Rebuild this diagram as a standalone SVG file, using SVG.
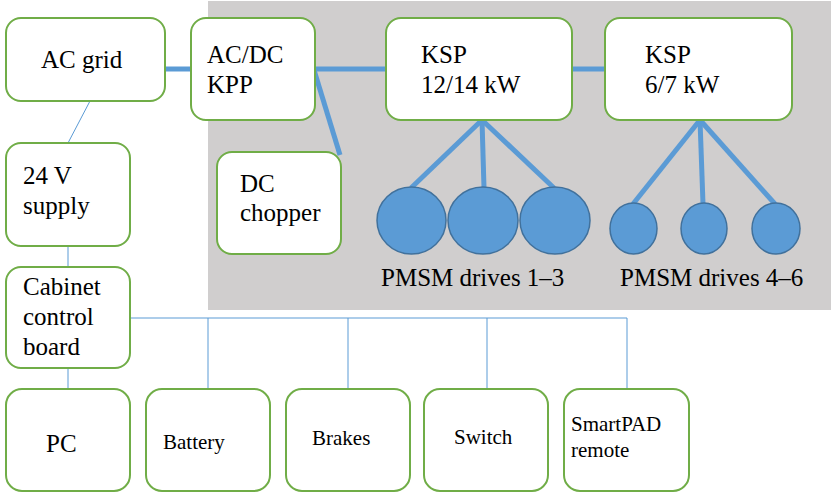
<svg xmlns="http://www.w3.org/2000/svg" width="831" height="493" viewBox="0 0 831 493" font-family="'Liberation Serif', serif">
<style>
.box{fill:#fff;stroke:#70AD47;stroke-width:2}
.t{font-family:'Liberation Serif', serif;font-size:25px;fill:#000}
.s{font-family:'Liberation Serif', serif;font-size:21px;fill:#000}
.thick{stroke:#5B9BD5;stroke-width:5;fill:none}
.thin{stroke:#5B9BD5;stroke-width:1;fill:none}
.motor{fill:#5B9BD5;stroke:#41719C;stroke-width:1.5}
</style>
<rect x="208" y="1" width="623" height="309" fill="#D0CECE"/>
<g id="connectors">
<line class="thick" x1="165" y1="69" x2="191" y2="69"/>
<line class="thick" x1="315" y1="69" x2="386" y2="69"/>
<line class="thick" x1="314" y1="70" x2="340" y2="155"/>
<line class="thick" x1="572" y1="69" x2="605" y2="69"/>
<line class="thick" x1="482" y1="120" x2="411" y2="188"/>
<line class="thick" x1="482" y1="120" x2="484" y2="188"/>
<line class="thick" x1="482" y1="120" x2="554" y2="188"/>
<line class="thick" x1="700" y1="120" x2="633" y2="204"/>
<line class="thick" x1="700" y1="120" x2="703" y2="204"/>
<line class="thick" x1="700" y1="120" x2="775" y2="204"/>
<line class="thin" x1="90" y1="101" x2="68" y2="143"/>
<line class="thin" x1="68" y1="246" x2="68" y2="267"/>
<line class="thin" x1="68" y1="368" x2="68" y2="389"/>
<polyline class="thin" points="130,318 627,318 627,389"/>
<line class="thin" x1="208" y1="318" x2="208" y2="389"/>
<line class="thin" x1="348" y1="318" x2="348" y2="389"/>
<line class="thin" x1="487" y1="318" x2="487" y2="389"/>
</g>
<g id="ac-grid"><rect class="box" x="6" y="18" width="159" height="83" rx="15"/><text class="t" x="41" y="68">AC grid</text></g>
<g id="acdc-kpp"><rect class="box" x="191" y="18" width="124" height="102" rx="15"/><text class="t" x="207" y="63">AC/DC</text><text class="t" x="207" y="93">KPP</text></g>
<g id="ksp1"><rect class="box" x="386" y="18" width="186" height="102" rx="15"/><text class="t" x="421" y="63">KSP</text><text class="t" x="421" y="93">12/14 kW</text></g>
<g id="ksp2"><rect class="box" x="605" y="18" width="187" height="102" rx="15"/><text class="t" x="645" y="63">KSP</text><text class="t" x="645" y="93">6/7 kW</text></g>
<g id="dc-chopper"><rect class="box" x="217" y="152" width="124" height="102" rx="15"/><text class="t" x="240" y="192">DC</text><text class="t" x="240" y="221">chopper</text></g>
<g id="supply24"><rect class="box" x="6" y="143" width="124" height="103" rx="15"/><text class="t" x="23" y="184">24 V</text><text class="t" x="23" y="214">supply</text></g>
<g id="cabinet"><rect class="box" x="6" y="267" width="124" height="101" rx="15"/><text class="t" x="23" y="295">Cabinet</text><text class="t" x="23" y="325">control</text><text class="t" x="23" y="355">board</text></g>
<g id="motors13">
<ellipse class="motor" cx="411.5" cy="220.5" rx="34.5" ry="33.5"/>
<ellipse class="motor" cx="483" cy="220.5" rx="35" ry="33.5"/>
<ellipse class="motor" cx="555" cy="220.5" rx="35" ry="33.5"/>
<text class="t" x="381" y="286">PMSM drives 1–3</text>
</g>
<g id="motors46">
<ellipse class="motor" cx="633.5" cy="228.5" rx="23.5" ry="25.5"/>
<ellipse class="motor" cx="704" cy="228.5" rx="23" ry="25.5"/>
<ellipse class="motor" cx="776" cy="228.5" rx="24" ry="25.5"/>
<text class="t" x="620" y="286">PMSM drives 4–6</text>
</g>
<g id="pc"><rect class="box" x="6" y="389" width="124" height="102" rx="16"/><text class="t" x="46" y="452">PC</text></g>
<g id="battery"><rect class="box" x="146" y="389" width="124" height="102" rx="16"/><text class="s" x="163" y="449">Battery</text></g>
<g id="brakes"><rect class="box" x="286" y="389" width="124" height="102" rx="16"/><text class="s" x="312" y="445">Brakes</text></g>
<g id="switch"><rect class="box" x="424" y="389" width="124" height="102" rx="16"/><text class="s" x="454" y="444">Switch</text></g>
<g id="smartpad"><rect class="box" x="564" y="389" width="125" height="102" rx="16"/><text class="s" x="571" y="431">SmartPAD</text><text class="s" x="571" y="457">remote</text></g>
</svg>
